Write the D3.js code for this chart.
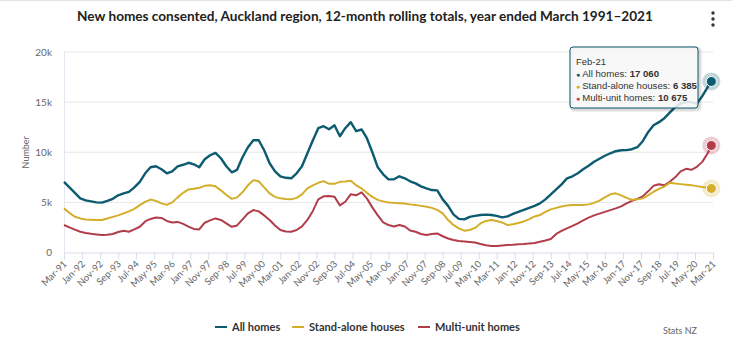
<!DOCTYPE html>
<html>
<head>
<meta charset="utf-8">
<script src="https://cdn.jsdelivr.net/npm/d3@7"></script>
<style>
  body { margin: 0; background: #fff; }
  svg { display: block; font-family: Lato, "Noto Sans", sans-serif; }
</style>
</head>
<body>
<svg id="chart" width="740" height="347"></svg>
<script>
// quarterly readings from Mar-91, last point is Feb-21
const allHomes = [
  7050, 6500, 5950, 5400, 5200, 5100, 5000, 4980, 5150, 5350,
  5700, 5900, 6050, 6500, 7050, 7900, 8500, 8600, 8300, 7900,
  8100, 8600, 8750, 8950, 8800, 8500, 9300, 9700, 9940, 9400,
  8600, 8000, 8250, 9500, 10500, 11200, 11200, 10200, 8900, 8100,
  7600, 7450, 7400, 7900, 8600, 9900, 11200, 12400, 12600, 12300,
  12700, 11600, 12400, 13000, 12100, 12270, 11400, 10000, 8500, 7800,
  7290, 7300, 7600, 7400, 7100, 6890, 6600, 6400, 6230, 6200,
  5300, 4650, 3800, 3350, 3300, 3550, 3650, 3740, 3780, 3740,
  3650, 3500, 3600, 3850, 4050, 4250, 4450, 4650, 4900, 5300,
  5800, 6300, 6800, 7390, 7600, 7900, 8300, 8650, 9050, 9350,
  9650, 9900, 10100, 10200, 10210, 10300, 10500, 11100, 12000, 12700,
  13000, 13400, 13950, 14500, 14850, 15000, 15000, 14850, 15600, 16500,
  17060
];
const standAlone = [
  4400, 3950, 3570, 3400, 3300, 3270, 3250, 3250, 3400, 3550,
  3700, 3900, 4100, 4350, 4730, 5050, 5280, 5150, 4900, 4750,
  5000, 5500, 5950, 6290, 6350, 6450, 6650, 6700, 6600, 6200,
  5730, 5350, 5500, 6000, 6700, 7220, 7100, 6500, 5900, 5550,
  5400, 5330, 5300, 5450, 5800, 6400, 6700, 6950, 7120, 6850,
  6850, 7050, 7080, 7150, 6700, 6390, 5950, 5550, 5250, 5100,
  4980, 4950, 4920, 4880, 4800, 4740, 4650, 4560, 4450, 4250,
  3900, 3240, 2750, 2400, 2180, 2250, 2450, 2900, 3150, 3240,
  3150, 3000, 2740, 2820, 2950, 3100, 3330, 3600, 3740, 4050,
  4300, 4450, 4580, 4700, 4730, 4730, 4730, 4800, 4950, 5180,
  5500, 5800, 5900, 5700, 5450, 5260, 5300, 5400, 5700, 6060,
  6350, 6580, 6950, 6880, 6820, 6770, 6720, 6620, 6530, 6450,
  6385
];
const multiUnit = [
  2740, 2500, 2280, 2070, 1950, 1860, 1800, 1750, 1780, 1840,
  2050, 2170, 2070, 2300, 2570, 3100, 3350, 3500, 3450, 3150,
  2990, 3050, 2850, 2580, 2350, 2300, 2970, 3200, 3400, 3250,
  2900, 2560, 2700, 3300, 3900, 4230, 4100, 3700, 3240, 2700,
  2240, 2100, 2070, 2240, 2600, 3250, 4150, 5300, 5600, 5630,
  5560, 4700, 5060, 5800, 5700, 6000, 5400, 4500, 3700, 3000,
  2740, 2600, 2750, 2600, 2200, 2070, 1850, 1750, 1850, 1900,
  1620, 1400, 1250, 1150, 1100, 1050, 1000, 850, 720, 660,
  650, 700, 750, 780, 830, 850, 900, 950, 1080, 1200,
  1350, 1850, 2150, 2410, 2650, 2910, 3200, 3480, 3700, 3880,
  4050, 4230, 4400, 4600, 4900, 5150, 5350, 5600, 6100, 6650,
  6800, 6700, 7050, 7500, 8100, 8350, 8250, 8550, 9040, 9900,
  10675
];

const seriesNames = ["All homes", "Stand-alone houses", "Multi-unit homes"];
const seriesColors = ["#0d5b70", "#d4ae2a", "#b23d4a"];

const tickLabels = [
  "Mar-91", "Jan-92", "Nov-92", "Sep-93", "Jul-94", "May-95", "Mar-96", "Jan-97",
  "Nov-97", "Sep-98", "Jul-99", "May-00", "Mar-01", "Jan-02", "Nov-02", "Sep-03",
  "Jul-04", "May-05", "Mar-06", "Jan-07", "Nov-07", "Sep-08", "Jul-09", "May-10",
  "Mar-11", "Jan-12", "Nov-12", "Sep-13", "Jul-14", "May-15", "Mar-16", "Jan-17",
  "Nov-17", "Sep-18", "Jul-19", "May-20", "Mar-21"
];
const yTicks = [0, 5000, 10000, 15000, 20000];
const tooltipLabel = "Feb-21";

const parseMonth = d3.timeParse("%b-%y");
const fmtMonth = d3.timeFormat("%b-%y");

// x categories: every third month, then the final month
const start = parseMonth("Mar-91");
const months = d3.range(0, 358, 3).map(m => d3.timeMonth.offset(start, m));
months.push(parseMonth("Feb-21"));

const margin = { top: 52, right: 27, bottom: 94.5, left: 64 };
const W = 740, H = 347;
const width = W - margin.left - margin.right;
const height = H - margin.top - margin.bottom;

const svg = d3.select("#chart");

// thin rule across the top
svg.append("line")
  .attr("x1", 0).attr("x2", 732).attr("y1", 0.5).attr("y2", 0.5)
  .attr("stroke", "#e4e4e4");

svg.append("text")
  .attr("x", 365).attr("y", 21)
  .attr("text-anchor", "middle")
  .attr("font-size", 13.6).attr("font-weight", 700)
  .attr("fill", "#222")
  .text("New homes consented, Auckland region, 12-month rolling totals, year ended March 1991\u20132021");

// menu dots
svg.append("g").selectAll("circle")
  .data([13, 19, 25]).join("circle")
  .attr("cx", 713).attr("cy", d => d).attr("r", 1.7).attr("fill", "#333");

const chart = svg.append("g")
  .attr("transform", `translate(${margin.left},${margin.top})`);

const x = d3.scaleTime()
  .domain([parseMonth("Mar-91"), parseMonth("Mar-21")])
  .range([0, width]);
const y = d3.scaleLinear().domain([0, 20000]).range([height, 0]);

// gridlines
chart.append("g")
  .selectAll("line")
  .data(yTicks.filter(d => d > 0)).join("line")
  .attr("x1", 0).attr("x2", width)
  .attr("y1", d => y(d)).attr("y2", d => y(d))
  .attr("stroke", "#e6e6e6");

chart.append("line")
  .attr("x1", 0.5).attr("x2", 0.5).attr("y1", 0).attr("y2", height)
  .attr("stroke", "#e3e6ee");

const yAxis = d3.axisLeft(y)
  .tickValues(yTicks)
  .tickSize(0)
  .tickPadding(12)
  .tickFormat(d => d === 0 ? "0" : (d / 1000) + "k");
chart.append("g").call(yAxis)
  .call(g => g.select(".domain").remove())
  .selectAll("text")
  .attr("font-family", "Lato, sans-serif")
  .attr("font-size", 10).attr("fill", "#666");

const xAxis = d3.axisBottom(x)
  .tickValues(tickLabels.map(parseMonth))
  .tickSize(7)
  .tickSizeOuter(0)
  .tickFormat(fmtMonth);
const xg = chart.append("g")
  .attr("transform", `translate(0,${height})`)
  .call(xAxis);
xg.select(".domain").attr("stroke", "#d8dce6");
xg.selectAll(".tick line").attr("stroke", "#d8dce6");
xg.selectAll("text")
  .attr("font-family", "Lato, sans-serif")
  .attr("font-size", 9.5).attr("fill", "#666")
  .attr("text-anchor", "end")
  .attr("dy", null).attr("y", 0)
  .attr("transform", "translate(3,12) rotate(-45)");

svg.append("text")
  .attr("transform", `translate(29,${margin.top + height / 2}) rotate(-90)`)
  .attr("text-anchor", "middle")
  .attr("font-size", 9).attr("fill", "#666")
  .text("Number");

const series = [allHomes, standAlone, multiUnit];
const line = d3.line()
  .x((d, i) => x(months[i]))
  .y(d => y(d));

// draw multi-unit first so all homes sits on top
[2, 1, 0].forEach(k => {
  chart.append("path")
    .datum(series[k])
    .attr("fill", "none")
    .attr("stroke", seriesColors[k])
    .attr("stroke-width", k === 0 ? 2.4 : 2)
    .attr("stroke-linejoin", "round")
    .attr("d", line);
});

// highlighted last point
const last = months.length - 1;
series.forEach((s, k) => {
  const cx = x(months[last]), cy = y(s[last]);
  chart.append("circle").attr("cx", cx).attr("cy", cy).attr("r", 9)
    .attr("fill", seriesColors[k]).attr("opacity", 0.25);
  chart.append("circle").attr("cx", cx).attr("cy", cy).attr("r", 5)
    .attr("fill", seriesColors[k]).attr("stroke", "#fff").attr("stroke-width", 1);
});

// tooltip
const tip = svg.append("g").attr("transform", "translate(570,47)");
[3, 2, 1].forEach(o => {
  tip.append("rect")
    .attr("x", o * 0.5).attr("y", o * 0.5).attr("width", 128).attr("height", 61).attr("rx", 3)
    .attr("fill", "none").attr("stroke", "#000").attr("stroke-opacity", 0.03 * o)
    .attr("stroke-width", o * 1.5);
});
tip.append("rect")
  .attr("width", 128).attr("height", 61).attr("rx", 3)
  .attr("fill", "rgba(247,247,247,0.88)")
  .attr("stroke", seriesColors[0]).attr("stroke-width", 1);
const tipFont = "'Liberation Sans', Arial, sans-serif";
tip.append("text")
  .attr("x", 6).attr("y", 18)
  .attr("font-family", tipFont).attr("font-size", 9.5).attr("fill", "#333")
  .text(tooltipLabel);
series.forEach((s, k) => {
  const t = tip.append("text")
    .attr("x", 6).attr("y", 30 + k * 12)
    .attr("font-family", tipFont).attr("font-size", 9.6).attr("fill", "#333");
  t.append("tspan").attr("fill", seriesColors[k]).attr("font-size", 7).text("\u25CF ");
  t.append("tspan").text(seriesNames[k] + ": ");
  t.append("tspan").attr("font-weight", 700)
    .text(d3.format(",")(s[last]).replace(/,/g, " "));
});

// legend
const legendX = [215, 292, 418];
const legend = svg.append("g").attr("transform", "translate(0,327)");
seriesNames.forEach((name, k) => {
  legend.append("line")
    .attr("x1", legendX[k]).attr("x2", legendX[k] + 12)
    .attr("stroke", seriesColors[k]).attr("stroke-width", 2);
  legend.append("text")
    .attr("x", legendX[k] + 17).attr("y", 4)
    .attr("font-size", 11).attr("font-weight", 700).attr("fill", "#333")
    .text(name);
});

svg.append("text")
  .attr("x", 697).attr("y", 334)
  .attr("text-anchor", "end")
  .attr("font-size", 9).attr("fill", "#666")
  .text("Stats NZ");
</script>
</body>
</html>
